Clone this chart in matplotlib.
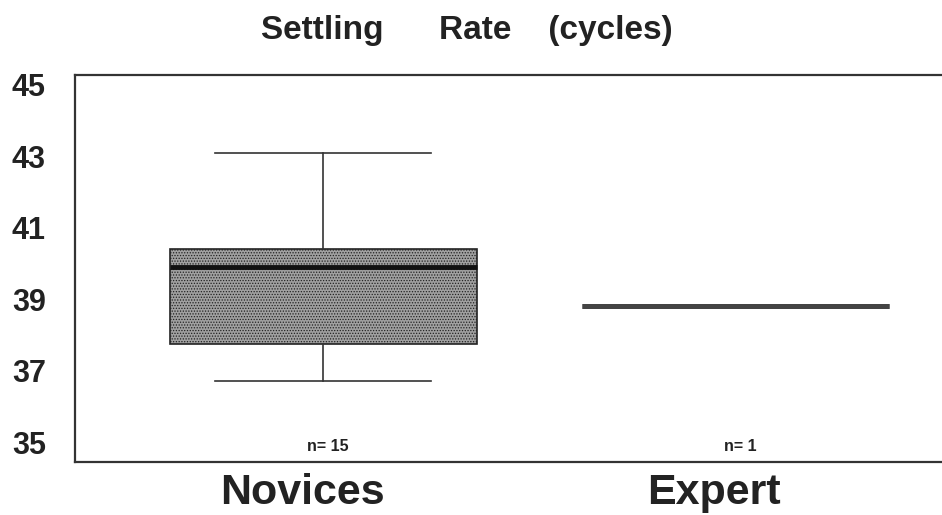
import matplotlib
matplotlib.use("Agg")
import matplotlib.pyplot as plt
from matplotlib.transforms import ScaledTranslation

plt.rcParams["font.family"] = ["Liberation Sans", "DejaVu Sans"]
plt.rcParams["font.weight"] = "bold"
plt.rcParams["hatch.color"] = "#666666"
plt.rcParams["hatch.linewidth"] = 0.6

# settling rate summary
groups = ["Novices", "Expert"]
counts = [15, 1]
whis_low = [36.7, 38.8]
q1 = [37.75, 38.8]
medians = [39.9, 38.8]
q3 = [40.4, 38.8]
whis_high = [43.1, 38.8]
yticks = [35, 37, 39, 41, 43, 45]

stats = []
for i, g in enumerate(groups):
    stats.append({"label": g, "whislo": whis_low[i], "q1": q1[i], "med": medians[i],
                  "q3": q3[i], "whishi": whis_high[i], "fliers": []})

fig = plt.figure(figsize=(9.42, 5.15), dpi=100)
ax = fig.add_axes([75 / 942, 53 / 515, 1 - 75 / 942, 387 / 515])

pos = list(range(len(groups)))
bp = ax.bxp(stats, positions=pos, widths=0.745, patch_artist=True, showfliers=False,
            boxprops=dict(facecolor="#a0a0a0", edgecolor="#222222", linewidth=1.2, hatch="......"),
            medianprops=dict(color="#111111", linewidth=3.5, solid_capstyle="butt"),
            whiskerprops=dict(color="#333333", linewidth=1.2),
            capprops=dict(color="#333333", linewidth=1.2),
            capwidths=0.525)
# expert has a single value -> only a line is visible
bp["boxes"][1].set_edgecolor("#444444")
bp["boxes"][1].set_linewidth(3.5)
bp["medians"][1].set_color("#444444")
for c in bp["caps"][2:]:
    c.set_visible(False)

ax.set_xlim(-0.602, 1.502)
ax.set_ylim(34.44, 45.28)

ax.set_yticks(yticks)
ax.set_yticklabels([str(t) for t in yticks], fontsize=22, fontweight="bold", color="#222222")
ax.tick_params(axis="y", length=0, pad=21)

ax.set_xticks(pos)
ax.set_xticklabels(groups, fontsize=31, fontweight="bold", color="#222222")
ax.tick_params(axis="x", length=0, pad=8)
for lab in ax.get_xticklabels():
    lab.set_transform(lab.get_transform() + ScaledTranslation(-0.21, 0, fig.dpi_scale_trans))

for i, n in enumerate(counts):
    ax.text(pos[i] + 0.012, 0.039, f"n= {n}", transform=ax.get_xaxis_transform(),
            ha="center", va="center", fontsize=11.5, fontweight="bold", color="#222222")

for s in ["left", "top", "bottom"]:
    ax.spines[s].set_linewidth(1.6)
    ax.spines[s].set_color("#333333")
ax.spines["right"].set_visible(False)

fig.text(467 / 942, 1 - 30 / 515, "Settling      Rate    (cycles)", ha="center", va="center",
         fontsize=24, fontweight="bold", color="#222222")

fig.savefig("out.png", dpi=100)
